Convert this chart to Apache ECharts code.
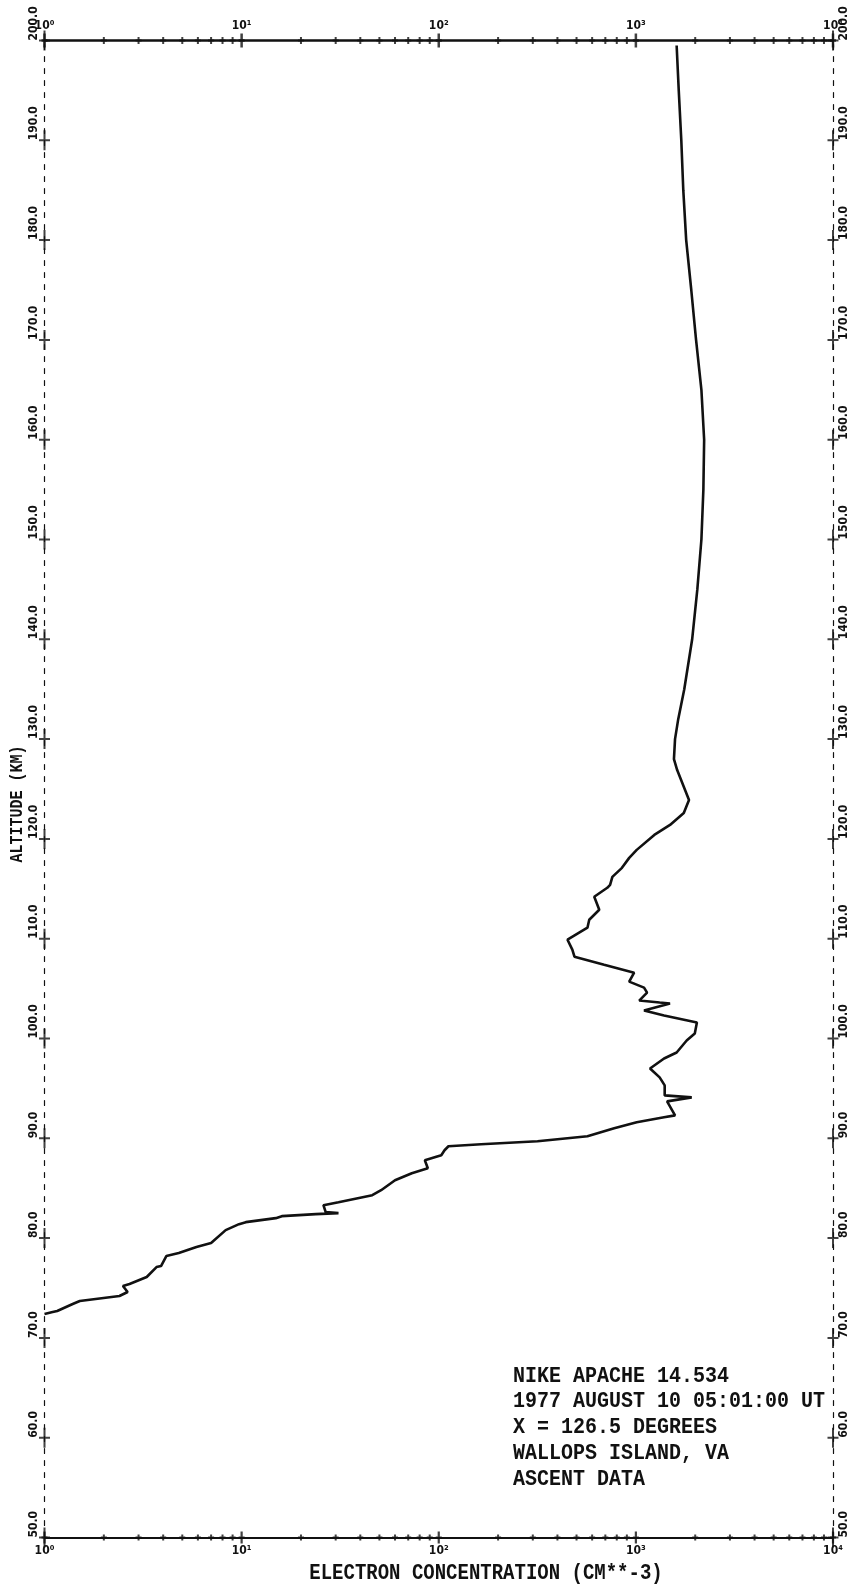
<!DOCTYPE html>
<html><head><meta charset="utf-8">
<script src="https://cdn.jsdelivr.net/npm/echarts@6/dist/echarts.min.js"></script>
<style>html,body{margin:0;padding:0;background:#fff}#c{width:850px;height:1585px}</style>
</head><body><div id="c"></div><script>
// ---- data ----
const altitudeKm = [199.5,195,190,185,180,175,170,165,160,155,150,145,140,135,132,130,128,126.9,123.9,122.6,121.4,120.4,118.9,118.1,117.1,116.2,115.4,115.1,114.2,112.9,111.9,111.1,109.9,108.9,108.2,107.4,106.6,105.7,105.1,104.6,103.8,103.6,103.5,102.8,102.3,101.6,100.5,99.8,98.6,98.0,97.0,96.1,95.3,94.3,94.1,93.7,92.3,92.1,91.6,91.0,90.2,89.7,89.4,89.2,88.8,88.3,87.8,87.0,86.5,85.8,84.8,84.3,83.6,83.3,82.6,82.5,82.4,82.2,82.0,81.6,81.4,80.8,79.5,79.1,78.5,78.2,77.2,77.1,76.1,75.4,75.2,74.6,74.2,73.7,73.4,72.7,72.6,72.4];
const electronDensity = [1610,1650,1700,1740,1800,1910,2020,2150,2220,2200,2150,2050,1930,1760,1640,1580,1560,1620,1860,1750,1490,1240,1010,925,850,760,740,716,615,652,580,568,450,476,488,690,980,925,1100,1140,1040,1320,1490,1100,1390,2040,1990,1810,1610,1390,1180,1320,1400,1400,1920,1440,1580,1390,1010,776,568,317,164,112,107,103,85,88,73,60,51,46,31,26,26.7,31,23.8,16,14.9,10.5,9.7,8.3,7.0,5.9,4.8,4.15,3.9,3.7,3.3,2.7,2.5,2.64,2.4,1.51,1.39,1.16,1.10,1.0];
const xMajorTicks = [1,10,100,1000,10000];
const xTickLabels = ['10\u2070','10\u00b9','10\u00b2','10\u00b3','10\u2074'];
const xMinorMultipliers = [2,3,4,5,6,7,8,9];
const yTicks = [50,60,70,80,90,100,110,120,130,140,150,160,170,180,190,200];
const yTickLabels = ['50.0','60.0','70.0','80.0','90.0','100.0','110.0','120.0','130.0','140.0','150.0','160.0','170.0','180.0','190.0','200.0'];
const xAxisTitle = 'ELECTRON CONCENTRATION (CM**-3)';
const yAxisTitle = 'ALTITUDE (KM)';
const noteLines = ['NIKE APACHE 14.534','1977 AUGUST 10 05:01:00 UT','X = 126.5 DEGREES','WALLOPS ISLAND, VA','ASCENT DATA'];

// ---- build ----
const X_MIN = xMajorTicks[0], X_MAX = xMajorTicks[xMajorTicks.length-1];
const Y_MIN = yTicks[0], Y_MAX = yTicks[yTicks.length-1];
const curve = altitudeKm.map((a,i)=>[electronDensity[i], a]);
const minorX = [];
xMajorTicks.slice(0,-1).forEach(d=>xMinorMultipliers.forEach(m=>minorX.push(d*m)));

function plus(w,h,t){
  return `path://M${-t/2},${-h/2}H${t/2}V${-t/2}H${w/2}V${t/2}H${t/2}V${h/2}H${-t/2}V${t/2}H${-w/2}V${-t/2}H${-t/2}Z`;
}
const INK = '#111';
function tickSeries(data, w, h, t){
  return {type:'scatter', xAxisIndex:0, yAxisIndex:0, data, clip:false, silent:true,
    symbol: plus(w,h,t), symbolSize:[w,h], symbolKeepAspect:false,
    itemStyle:{color:INK}, z:5, animation:false};
}
const labelFont = '"DejaVu Sans Condensed","DejaVu Sans",sans-serif';
const monoFont = '"Liberation Mono","DejaVu Sans Mono",monospace';

const chart = echarts.init(document.getElementById('c'), null, {renderer:'canvas'});
const xLabelFmt = v => { const i = xMajorTicks.indexOf(v); return i>=0 ? xTickLabels[i] : ''; };
const yLabelFmt = v => { const i = yTicks.indexOf(v); return i>=0 ? yTickLabels[i] : ''; };

chart.setOption({
  animation:false,
  backgroundColor:'#ffffff',
  grid:{left:44.5, right:12, top:40.5, bottom:47.5, containLabel:false},
  xAxis:[
    {type:'log', logBase:10, min:X_MIN, max:X_MAX, position:'bottom', splitNumber:4,
     axisLine:{lineStyle:{color:INK, width:2}}, axisTick:{show:false}, splitLine:{show:false},
     axisLabel:{formatter:xLabelFmt, color:INK, fontSize:12, fontWeight:'bold', fontFamily:labelFont, margin:7}},
    {type:'log', logBase:10, min:X_MIN, max:X_MAX, position:'top', splitNumber:4,
     axisLine:{lineStyle:{color:INK, width:2.5}}, axisTick:{show:false}, splitLine:{show:false},
     axisLabel:{formatter:xLabelFmt, color:INK, fontSize:12, fontWeight:'bold', fontFamily:labelFont, margin:9}}
  ],
  yAxis:[
    {type:'value', min:Y_MIN, max:Y_MAX, interval:10, position:'left',
     axisLine:{lineStyle:{color:INK, width:1.2, type:[5,7]}}, axisTick:{show:false}, splitLine:{show:false},
     axisLabel:{formatter:yLabelFmt, rotate:90, align:'left', verticalAlign:'bottom', margin:5,
       color:INK, fontSize:12, fontWeight:'bold', fontFamily:labelFont}},
    {type:'value', min:Y_MIN, max:Y_MAX, interval:10, position:'right',
     axisLine:{lineStyle:{color:INK, width:1.2, type:[5,7]}}, axisTick:{show:false}, splitLine:{show:false},
     axisLabel:{formatter:yLabelFmt, rotate:90, align:'left', verticalAlign:'top', margin:5,
       color:INK, fontSize:12, fontWeight:'bold', fontFamily:labelFont}}
  ],
  series:[
    {type:'line', xAxisIndex:0, yAxisIndex:0, data:curve, showSymbol:false, smooth:false,
     lineStyle:{color:INK, width:2.6}, z:10, clip:true},
    tickSeries(xMajorTicks.map(v=>[v,Y_MAX]), 6, 14, 2.5),
    tickSeries(minorX.map(v=>[v,Y_MAX]), 6, 7, 2),
    tickSeries(xMajorTicks.map(v=>[v,Y_MIN]), 6, 12, 2.2),
    tickSeries(minorX.map(v=>[v,Y_MIN]), 6, 6, 2),
    tickSeries(yTicks.map(a=>[X_MIN,a]), 11, 20, 2),
    tickSeries(yTicks.map(a=>[X_MAX,a]), 11, 20, 2)
  ],
  graphic:[
    {type:'text', x:17, y:804, rotation:Math.PI/2, scaleY:1.25,
     style:{text:yAxisTitle, font:`bold 15px ${monoFont}`, fill:INK, align:'center', verticalAlign:'middle'}},
    {type:'text', x:486, y:1573, scaleY:1.2,
     style:{text:xAxisTitle, font:`bold 19px ${monoFont}`, fill:INK, align:'center', verticalAlign:'middle'}},
    ...noteLines.map((t,i)=>({type:'text', x:513, y:1376 + i*25.8, scaleY:1.1,
     style:{text:t, font:`bold 20px ${monoFont}`, fill:INK, align:'left', verticalAlign:'middle'}}))
  ]
});
</script></body></html>
